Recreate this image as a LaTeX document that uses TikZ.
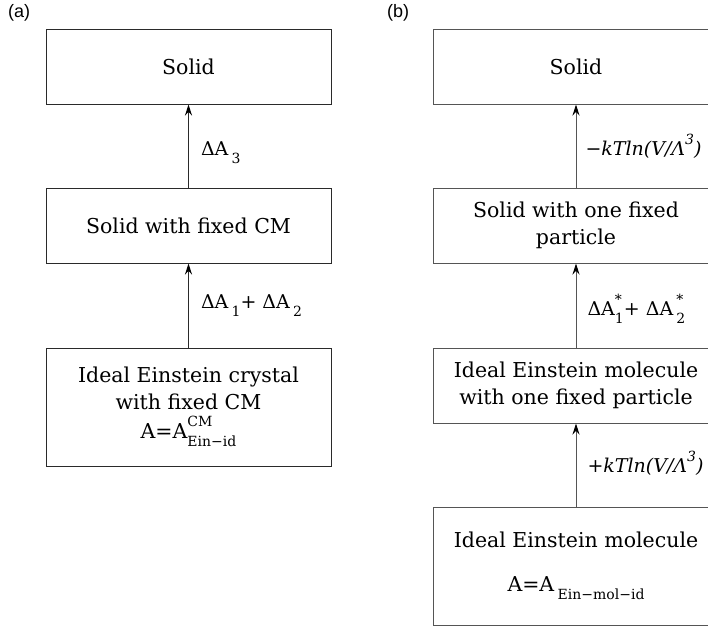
\documentclass[tikz,border=0pt]{standalone}
\usepackage{fontspec}
\setmainfont{DejaVu Serif}
\newfontfamily\labfont{Liberation Sans}
\usetikzlibrary{arrows.meta}
\definecolor{lineA}{HTML}{2A2A2A}
\definecolor{lineB}{HTML}{555555}
\newcommand\mysub[1]{\raisebox{-0.4em}{\fontsize{14}{14}\selectfont #1}}
\newcommand\mysubsup[2]{\rlap{\raisebox{0.6em}{\fontsize{14}{14}\selectfont #2}}\raisebox{-0.4em}{\fontsize{14}{14}\selectfont #1}}
\newcommand\mysup[1]{\raisebox{0.6em}{\fontsize{14}{14}\selectfont #1}}
\tikzset{
  x=1pt, y=-1pt,
  boxA/.style={draw=lineA, line width=1pt, minimum width=285pt, minimum height=75pt, inner sep=0pt, align=center, font=\fontsize{20.5}{27}\selectfont},
  boxB/.style={boxA, draw=lineB},
  arrA/.style={draw=lineA, line width=1pt, -{Stealth[length=11pt,width=7pt,black]}},
  arrB/.style={arrA, draw=lineB},
  lab/.style={anchor=west, inner sep=0pt, font=\fontsize{19}{22}\selectfont},
  panel/.style={anchor=west, inner sep=0pt, font=\labfont\fontsize{18}{20}\selectfont}
}
\begin{document}
\begin{tikzpicture}
\useasboundingbox (0,0) rectangle (708,627);
\clip (0,0) rectangle (708,627);
\node[panel] (pa) at (8,13) {(a)};
\node[panel] (pb) at (387,13) {(b)};
% panel (a)
\node[boxA] (a1) at (188.5,66.5) {Solid};
\node[boxA] (a2) at (188.5,225.5) {Solid with fixed CM};
\node[boxA, minimum height=118pt] (a3) at (188.5,407) {Ideal Einstein crystal\\with fixed CM\\[2pt]A=A\mysubsup{Ein−id}{CM}};
\draw[arrA] (a2.north) -- (a1.south) node[lab, pos=0.42, xshift=12pt] (la1) {ΔA\,\mysub{3}};
\draw[arrA] (a3.north) -- (a2.south) node[lab, pos=0.5, xshift=12pt] (la2) {ΔA\,\mysub{1}+ ΔA\,\mysub{2}};
% panel (b)
\node[boxB] (b1) at (576,66.5) {Solid};
\node[boxB] (b2) at (576,225.5) {Solid with one fixed\\particle};
\node[boxB] (b3) at (576,385.5) {Ideal Einstein molecule\\with one fixed particle};
\node[boxB, minimum height=118pt] (b4) at (576,566) {Ideal Einstein molecule\\[17pt]A=A\,\mysub{Ein−mol−id}};
\draw[arrB] (b2.north) -- (b1.south) node[lab, pos=0.5, xshift=9pt] (lb1) {\textit{−kTln(V/Λ\mysup{3})}};
\draw[arrB] (b3.north) -- (b2.south) node[lab, pos=0.46, xshift=11pt] (lb2) {ΔA\mysubsup{1}{*}+ ΔA\,\mysubsup{2}{*}};
\draw[arrB] (b4.north) -- (b3.south) node[lab, pos=0.52, xshift=11pt] (lb3) {\textit{+kTln(V/Λ\mysup{3})}};
\end{tikzpicture}
\end{document}
